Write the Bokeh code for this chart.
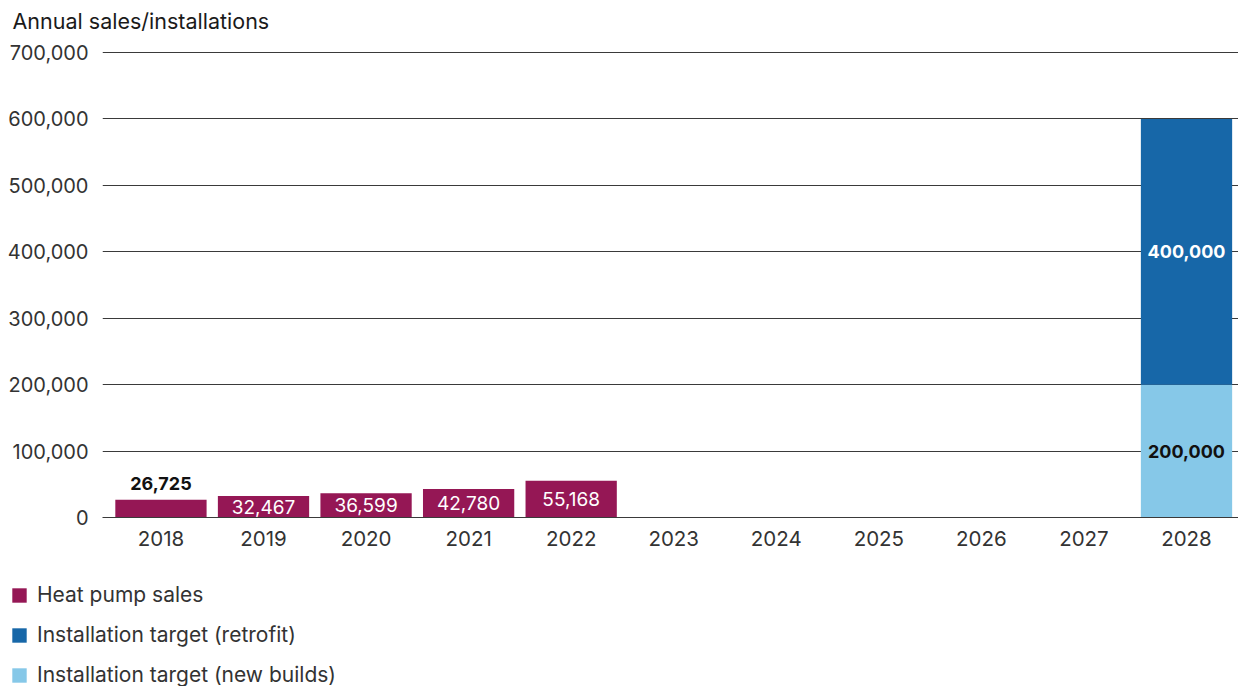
from bokeh.plotting import figure
from bokeh.models import Range1d, Legend, LegendItem, NumeralTickFormatter, ColumnDataSource, FixedTicker
from bokeh.layouts import column
from bokeh.core.properties import value
from bokeh.embed import file_html
from bokeh.resources import INLINE

# ---- data ----
years = ["2018", "2019", "2020", "2021", "2022", "2023", "2024", "2025", "2026", "2027", "2028"]
sales_years = ["2018", "2019", "2020", "2021", "2022"]
sales = [26725, 32467, 36599, 42780, 55168]
target_years = ["2028"]
target_new_builds = [200000]
target_retrofit = [400000]
y_ticks = [0, 100000, 200000, 300000, 400000, 500000, 600000, 700000]
series_names = ["Heat pump sales", "Installation target (retrofit)", "Installation target (new builds)"]

FONT = "Inter"
C_SALES = "#951755"
C_RETRO = "#1767A8"
C_NEW = "#86C8E8"
GRID = "#3a3a3a"
TXT = "#333333"

xi = {y: i for i, y in enumerate(years)}
sx = [xi[y] for y in sales_years]
tx = [xi[y] for y in target_years]


def add_bars(fig):
    rs = fig.vbar(x=sx, top=sales, width=0.89, color=C_SALES, line_color=None)
    src = ColumnDataSource(dict(x=tx, new_builds=target_new_builds, retrofit=target_retrofit))
    rn, rr = fig.vbar_stack(["new_builds", "retrofit"], x="x", width=0.89, color=[C_NEW, C_RETRO],
                            line_color=None, source=src)
    return rs, rr, rn


p = figure(x_range=Range1d(-0.570, 10.507), y_range=Range1d(0, 719500),
           width=1238, height=570, output_backend="svg", toolbar_location=None,
           min_border_left=102, min_border_right=0, min_border_top=0, min_border_bottom=53)
p.outline_line_color = None
p.background_fill_color = "white"
p.border_fill_color = "white"

# title
p.title.text = "Annual sales/installations"
p.title.text_font = FONT
p.title.text_font_size = "21.5px"
p.title.text_font_style = "normal"
p.title.text_color = "#1a1a1a"
p.title.align = "left"
p.title.offset = -90
p.title.standoff = 11

# bars
add_bars(p)

# labels
lab = dict(text_align="center", text_font=value(FONT))
p.text(x=sx[1:], y=[v / 2 for v in sales[1:]], text=[f"{v:,}" for v in sales[1:]],
       text_baseline="middle", text_color="white", text_font_style="normal",
       text_font_size="19px", **lab)
p.text(x=sx[:1], y=sales[:1], text=[f"{v:,}" for v in sales[:1]], y_offset=-10,
       text_baseline="bottom", text_color="#111111", text_font_style="bold",
       text_font_size="18px", **lab)
p.text(x=tx, y=[v / 2 for v in target_new_builds], text=[f"{v:,}" for v in target_new_builds],
       text_baseline="middle", text_color="#111111", text_font_style="bold",
       text_font_size="18px", **lab)
p.text(x=tx, y=[n + r / 2 for n, r in zip(target_new_builds, target_retrofit)],
       text=[f"{v:,}" for v in target_retrofit],
       text_baseline="middle", text_color="white", text_font_style="bold",
       text_font_size="18px", **lab)

# axes
p.yaxis.ticker = FixedTicker(ticks=y_ticks)
p.yaxis.formatter = NumeralTickFormatter(format="0,0")
p.yaxis.axis_line_color = None
p.yaxis.major_tick_line_color = None
p.yaxis.minor_tick_line_color = None
p.yaxis.major_label_standoff = 8
p.yaxis.major_label_text_font = FONT
p.yaxis.major_label_text_font_size = "20px"
p.yaxis.major_label_text_color = TXT

p.xaxis.ticker = FixedTicker(ticks=list(range(len(years))))
p.xaxis.major_label_overrides = {i: y for i, y in enumerate(years)}
p.xaxis.axis_line_color = GRID
p.xaxis.major_tick_line_color = None
p.xaxis.minor_tick_line_color = None
p.xaxis.major_label_standoff = 7
p.xaxis.major_label_text_font = FONT
p.xaxis.major_label_text_font_size = "20.5px"
p.xaxis.major_label_text_color = TXT

p.xgrid.grid_line_color = None
p.ygrid.grid_line_color = GRID
p.ygrid.grid_line_width = 1

# legend strip below the chart: same series drawn out of view, only the legend shows
lg = figure(width=1238, height=116, output_backend="svg", toolbar_location=None,
            x_range=Range1d(-3, -2), y_range=Range1d(-2, -1),
            x_axis_location=None, y_axis_location=None, min_border=0)
if "frame_align" in lg.properties():
    lg.frame_align = False
lg.outline_line_color = None
lg.grid.grid_line_color = None
lg_rs, lg_rr, lg_rn = add_bars(lg)
legend = Legend(items=[LegendItem(label=n, renderers=[r])
                       for n, r in zip(series_names, [lg_rs, lg_rr, lg_rn])],
                location=(10, -1), orientation="vertical",
                glyph_width=18, glyph_height=18, label_standoff=9, label_height=25, spacing=15,
                padding=0, margin=0, border_line_color=None, background_fill_alpha=0,
                label_text_font=FONT, label_text_font_size="21px", label_text_color=TXT)
lg.add_layout(legend, "center")

layout = column(p, lg, spacing=0)
open("out.html", "w").write(file_html(layout, INLINE))
